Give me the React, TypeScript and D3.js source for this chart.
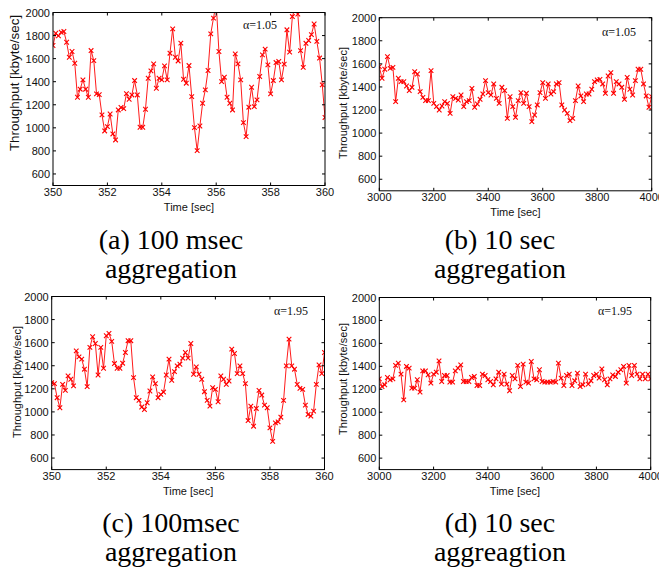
import * as d3 from "d3";

// throughput samples (kbyte/sec)
const tputA = [
  1714, 1820, 1797, 1829, 1835, 1742, 1612, 1662, 1560, 1265, 1335, 1416, 1335, 1265, 1670, 1583, 1294,
  1288, 1112, 973, 1011, 1120, 947, 895, 1155, 1176, 1167, 1297, 1248, 1285, 1410, 1285, 1005, 1005, 1161,
  1430, 1494, 1555, 1343, 1430, 1416, 1537, 1416, 1647, 1858, 1612, 1580, 1734, 1421, 1387, 1540, 1271,
  1002, 802, 1016, 1213, 1329, 1497, 1815, 1951, 2080, 1662, 1401, 1439, 1265, 1213, 1155, 1641, 1555,
  1416, 1045, 924, 1179, 1352, 1184, 1242, 1445, 1633, 1682, 1546, 1294, 1410, 1566, 1575, 1416, 1552,
  1850, 1656, 1965, 2040, 1987, 1669, 1524, 1733, 1757, 1808, 1900, 1750, 1605, 1373, 1090,
];

const tputB = [
  1576, 1475, 1553, 1663, 1561, 1570, 1273, 1475, 1446, 1446, 1408, 1368, 1397, 1532, 1512, 1359, 1310,
  1281, 1281, 1541, 1258, 1229, 1200, 1235, 1273, 1258, 1171, 1316, 1301, 1287, 1330, 1229, 1273, 1281,
  1388, 1224, 1252, 1293, 1339, 1455, 1351, 1330, 1426, 1301, 1258, 1397, 1368, 1128, 1316, 1229, 1137,
  1281, 1351, 1258, 1345, 1229, 1099, 1157, 1244, 1351, 1437, 1301, 1426, 1339, 1359, 1426, 1437, 1244,
  1200, 1171, 1108, 1128, 1281, 1408, 1322, 1273, 1339, 1339, 1380, 1446, 1460, 1466, 1426, 1345, 1495,
  1524, 1345, 1446, 1426, 1397, 1293, 1483, 1380, 1330, 1455, 1553, 1553, 1426, 1322, 1224, 1316,
];

const tputC = [
  1254, 1245, 1123, 1036, 1239, 1187, 1312, 1283, 1225, 1529, 1477, 1457, 1370, 1219, 1559, 1651, 1593,
  1320, 1559, 1378, 1660, 1680, 1611, 1419, 1378, 1378, 1422, 1515, 1617, 1617, 1297, 1123, 1100, 1042,
  1021, 1079, 1181, 1303, 1245, 1123, 1152, 1172, 1320, 1457, 1274, 1349, 1399, 1413, 1466, 1515, 1466,
  1593, 1326, 1390, 1326, 1283, 1175, 1100, 1050, 1210, 1195, 1088, 1312, 1283, 1239, 1268, 1544, 1506,
  1332, 1399, 1332, 1245, 925, 1050, 876, 1030, 1187, 1146, 1059, 1036, 862, 745, 905, 914, 954, 1100,
  1399, 1631, 1399, 1370, 1239, 1204, 1195, 1059, 978, 963, 1007, 1239, 1408, 1332, 1515,
];

const tputD = [
  1291, 1224, 1239, 1303, 1283, 1291, 1408, 1428, 1332, 1108, 1399, 1384, 1210, 1210, 1283, 1175, 1361,
  1361, 1326, 1254, 1332, 1349, 1448, 1268, 1320, 1320, 1262, 1262, 1361, 1384, 1413, 1268, 1268, 1268,
  1303, 1312, 1233, 1233, 1332, 1320, 1283, 1268, 1239, 1291, 1349, 1245, 1332, 1245, 1187, 1320, 1291,
  1408, 1224, 1419, 1262, 1254, 1442, 1291, 1283, 1370, 1268, 1262, 1262, 1262, 1268, 1262, 1428, 1297,
  1233, 1320, 1332, 1233, 1274, 1341, 1224, 1239, 1332, 1245, 1274, 1320, 1332, 1297, 1378, 1283, 1239,
  1291, 1326, 1312, 1349, 1370, 1399, 1254, 1408, 1320, 1408, 1332, 1291, 1332, 1291, 1332, 1291,
];

const yTicks = [600, 800, 1000, 1200, 1400, 1600, 1800, 2000];
const xTicksMsec = [350, 352, 354, 356, 358, 360];
const xTicksSec = [3000, 3200, 3400, 3600, 3800, 4000];
const alphas = ["α=1.05", "α=1.05", "α=1.95", "α=1.95"];
const captions = [
  ["(a) 100 msec", "aggregation"],
  ["(b) 10 sec", "aggregation"],
  ["(c) 100msec", "aggregation"],
  ["(d) 10 sec", "aggreagtion"],
];

const W = 659;
const H = 569;
const sans = "'Liberation Sans', Arial, Helvetica, sans-serif";
const serif = "'Liberation Serif', 'DejaVu Serif', serif";

const panels = [
  { values: tputA, x0: 350, step: 0.1, ticks: xTicksMsec, box: [53, 12.5, 325, 185.5], yl: [15, 83, 13.4], al: [243, 29], cap: 171 },
  { values: tputB, x0: 3000, step: 10, ticks: xTicksSec, box: [379.3, 17.7, 651.7, 190.8], yl: [343, 103, 11], al: [602, 36], cap: 500 },
  { values: tputC, x0: 350, step: 0.1, ticks: xTicksMsec, box: [51.7, 296.5, 324.5, 469.6], yl: [17, 382, 11], al: [274, 315], cap: 171 },
  { values: tputD, x0: 3000, step: 10, ticks: xTicksSec, box: [379.3, 297.5, 650.7, 469.6], yl: [343, 379, 11], al: [598, 315], cap: 500 },
];
const capY = [249, 278, 532, 561];

const Panel = ({ p, i }: { p: (typeof panels)[number]; i: number }) => {
  const [l, t, r, b] = p.box;
  const x = d3.scaleLinear().domain([p.x0, p.x0 + p.step * (p.values.length - 1)]).range([l, r]);
  const y = d3.scaleLinear().domain([500, 2000]).range([b, t]);
  const pts = p.values.map((v, k) => [x(p.x0 + p.step * k), y(v)] as [number, number]);
  const line = d3.line();
  const clipId = `clip${i}`;
  const tk = 3;
  const row = i < 2 ? 0 : 1;

  return (
    <g>
      <defs>
        <clipPath id={clipId}>
          <rect x={l} y={t} width={r - l} height={b - t} />
        </clipPath>
      </defs>
      <g clipPath={`url(#${clipId})`}>
        <path d={line(pts) ?? ""} fill="none" stroke="#ff0000" strokeWidth={0.9} />
        {pts.map(([px, py], k) => (
          <path
            key={k}
            transform={`translate(${px},${py})`}
            d="M-2.3,-2.3L2.3,2.3M-2.3,2.3L2.3,-2.3"
            stroke="#ff0000"
            strokeWidth={1.1}
          />
        ))}
      </g>
      <rect x={l} y={t} width={r - l} height={b - t} fill="none" stroke="#000" strokeWidth={1} />
      {p.ticks.map((v) => (
        <g key={v}>
          <line x1={x(v)} x2={x(v)} y1={b} y2={b - tk} stroke="#000" />
          <line x1={x(v)} x2={x(v)} y1={t} y2={t + tk} stroke="#000" />
          <text x={x(v)} y={b + 10} textAnchor="middle" fontFamily={sans} fontSize={11} fill="#111">
            {v}
          </text>
        </g>
      ))}
      {yTicks.map((v) => (
        <g key={v}>
          <line x1={l} x2={l + tk} y1={y(v)} y2={y(v)} stroke="#000" />
          <line x1={r} x2={r - tk} y1={y(v)} y2={y(v)} stroke="#000" />
          <text x={l - 3} y={y(v) + 4} textAnchor="end" fontFamily={sans} fontSize={11} fill="#111">
            {v}
          </text>
        </g>
      ))}
      <text x={(l + r) / 2} y={b + 25} textAnchor="middle" fontFamily={sans} fontSize={11} fill="#111">
        Time [sec]
      </text>
      <text
        transform={`translate(${p.yl[0] + 4},${p.yl[1]}) rotate(-90)`}
        textAnchor="middle"
        fontFamily={sans}
        fontSize={p.yl[2]}
        fill="#111"
      >
        Throughput [kbyte/sec]
      </text>
      <text x={p.al[0]} y={p.al[1]} fontFamily={serif} fontSize={12} fill="#111">
        {alphas[i]}
      </text>
      {captions[i].map((c, k) => (
        <text
          key={k}
          x={p.cap}
          y={capY[row * 2 + k]}
          textAnchor="middle"
          style={{ fontFamily: serif, fontSize: "28px" }}
          fill="#000"
        >
          {c}
        </text>
      ))}
    </g>
  );
};

export default function App() {
  return (
    <svg
      width={W}
      height={H}
      style={{ position: "absolute", left: 0, top: 0, background: "#fff" }}
    >
      {panels.map((p, i) => (
        <Panel key={i} p={p} i={i} />
      ))}
    </svg>
  );
}
